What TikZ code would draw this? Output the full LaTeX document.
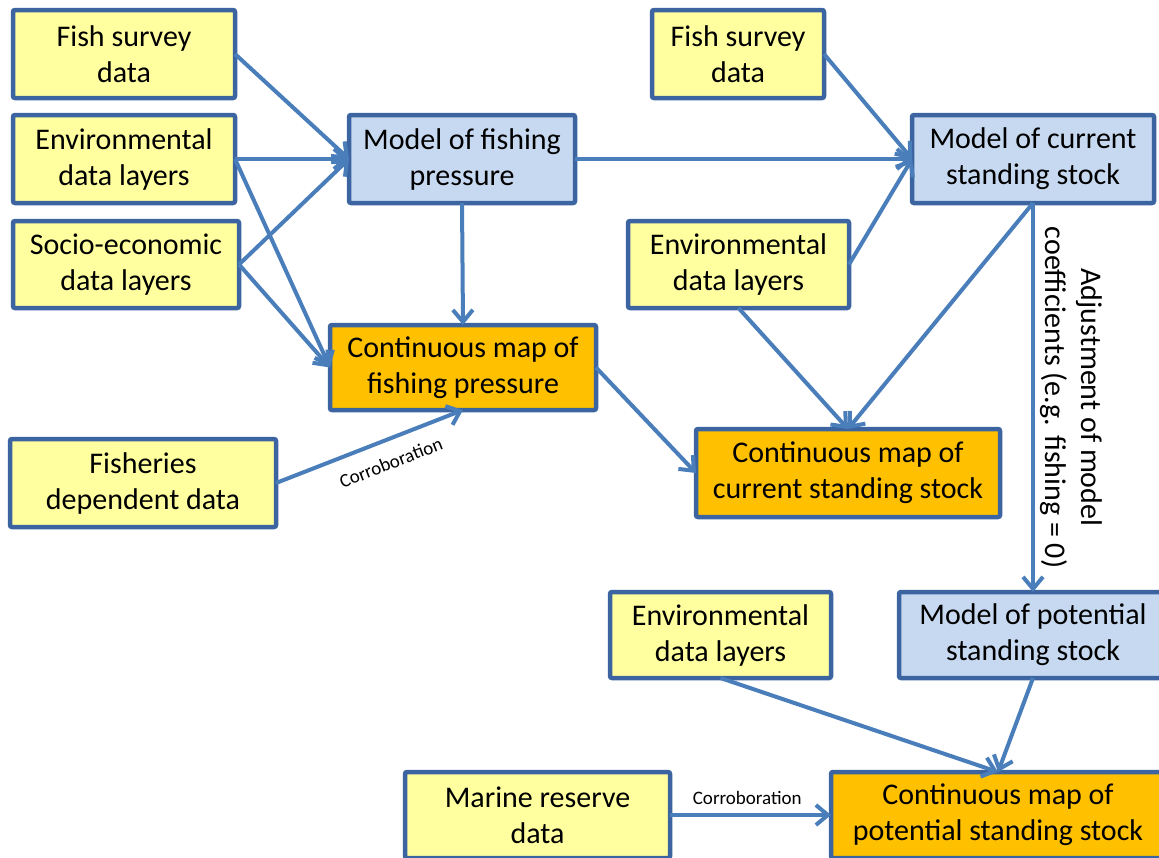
\documentclass[tikz,border=0pt]{standalone}
\usepackage{fontspec}
\setmainfont{Carlito}
\usetikzlibrary{arrows.meta}
\definecolor{boxline}{HTML}{3B64A0}
\definecolor{arrowblue}{HTML}{4A7EBB}
\definecolor{datafill}{HTML}{FFFFA0}
\definecolor{modelfill}{HTML}{C6D9F1}
\definecolor{mapfill}{HTML}{FFC000}
\tikzset{%
    >={Straight Barb[length=6pt,width=10pt]},
    box/.style={draw=boxline, line width=2.25pt, align=center, inner sep=0pt,
        outer sep=0pt, rounded corners=1pt, font=\fontsize{15}{18}\selectfont},
    data/.style={box, fill=datafill},
    model/.style={box, fill=modelfill},
    map/.style={box, fill=mapfill},
    link/.style={->, draw=arrowblue, line width=2pt},
    note/.style={font=\fontsize{9.5}{11}\selectfont}
}

\begin{document}
\begin{tikzpicture}[x=0.5pt,y=-0.5pt]
    \clip (0,0) rectangle (1159,857);

    % fishing pressure
    \node[data, minimum width=111pt, minimum height=44pt] (fish1) at (124,54) {Fish survey\\data};
    \node[data, minimum width=111pt, minimum height=44pt] (env1) at (124,159) {Environmental\\data layers};
    \node[data, minimum width=113pt, minimum height=43.5pt] (socio) at (126,264.5) {Socio-economic\\data layers};
    \node[model, minimum width=113pt, minimum height=44pt] (mpress) at (462,159) {Model of fishing\\pressure};
    \node[map, minimum width=133pt, minimum height=42.5pt] (cpress) at (463,367.5) {Continuous map of\\fishing pressure};
    \node[data, minimum width=133pt, minimum height=44pt] (depend) at (143,483) {Fisheries\\dependent data};

    % current standing stock
    \node[data, minimum width=86pt, minimum height=44pt] (fish2) at (738,54) {Fish survey\\data};
    \node[model, minimum width=121pt, minimum height=44pt] (mcurr) at (1033,159) {Model of current\\standing stock};
    \node[data, minimum width=110.5pt, minimum height=43.5pt] (env2) at (738.5,264.5) {Environmental\\data layers};
    \node[map, minimum width=152pt, minimum height=44pt] (ccurr) at (848,473) {Continuous map of\\current standing stock};

    % potential standing stock
    \node[model, minimum width=134pt, minimum height=43pt] (mpot) at (1033,635) {Model of potential\\standing stock};
    \node[data, minimum width=110.5pt, minimum height=43pt] (env3) at (720.5,635) {Environmental\\data layers};
    \node[data, minimum width=132.5pt, minimum height=43pt] (reserve) at (537.5,815) {Marine reserve\\data};
    \node[map, minimum width=167pt, minimum height=43pt] (cpot) at (998,815) {Continuous map of\\potential standing stock};

    % connectors
    \draw[link] (fish1.east) -- (mpress.west);
    \draw[link] (env1.east) -- (mpress.west);
    \draw[link] (socio.east) -- (mpress.west);
    \draw[link] (env1.east) -- (cpress.west);
    \draw[link] (socio.east) -- (cpress.west);
    \draw[link] (mpress.south) -- (cpress.north);
    \draw[link] (depend.east) -- node[note, sloped, below, pos=0.57, inner sep=7pt] {Corroboration} (cpress.south);

    \draw[link] (mpress.east) -- (mcurr.west);
    \draw[link] (fish2.east) -- (mcurr.west);
    \draw[link] (env2.east) -- (mcurr.west);
    \draw[link] (env2.south) -- (ccurr.north);
    \draw[link] (mcurr.south) -- (ccurr.north);
    \draw[link] (cpress.east) -- (ccurr.west);

    \draw[link] (mcurr.south) -- node[rotate=-90, anchor=south, align=center, inner sep=2.5pt,
        font=\fontsize{15}{18}\selectfont] {Adjustment of model\\coefficients (e.g. fishing = 0)} (mpot.north);
    \draw[link] (env3.south) -- (cpot.north);
    \draw[link] (mpot.south) -- (cpot.north);
    \draw[link] (reserve.east) -- node[note, above, pos=0.48, inner sep=4pt] {Corroboration} (cpot.west);
\end{tikzpicture}
\end{document}
